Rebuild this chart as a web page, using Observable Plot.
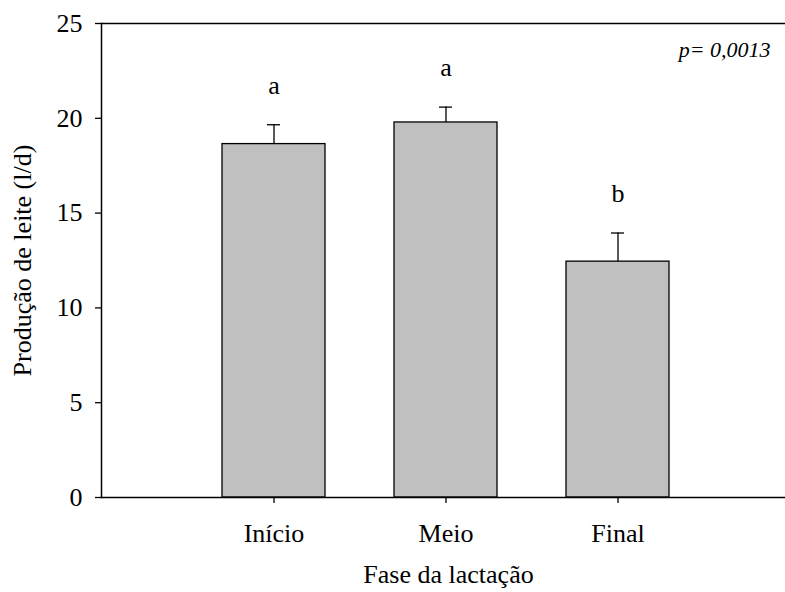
<!DOCTYPE html>
<html><head><meta charset="utf-8">
<script src="https://cdn.jsdelivr.net/npm/d3@7"></script>
<script src="https://cdn.jsdelivr.net/npm/@observablehq/plot@0.6"></script>
<style>
body{margin:0;background:#fff}
#chart svg, #chart svg text { font-family: "Liberation Serif", "DejaVu Serif", serif !important; }
</style>
</head><body><div id="chart"></div>
<script>
const phases = ["Início", "Meio", "Final"];
const means = [18.64, 19.78, 12.44];
const errors = [1.02, 0.81, 1.51];
const letters = ["a", "a", "b"];
const yTicks = [0, 5, 10, 15, 20, 25];
const pLabel = "p= 0,0013";
const xTitle = "Fase da lactação";
const yTitle = "Produção de leite (l/d)";

const data = phases.map((p, i) => ({phase: p, mean: means[i], top: means[i] + errors[i], letter: letters[i]}));

const chart = Plot.plot({
  width: 785, height: 592,
  marginLeft: 101, marginRight: 0, marginTop: 23, marginBottom: 95,
  style: {fontFamily: "Liberation Serif, serif", fontSize: "26px", color: "#000", background: "#fff", overflow: "visible"},
  x: {domain: phases, range: [101, 790], paddingInner: 0.4, paddingOuter: 0.7, label: null},
  y: {domain: [0, 25], label: null},
  marks: [
    Plot.barY(data, {x: "phase", y: "mean", fill: "#c0c0c0", stroke: "#000", strokeWidth: 1.3}),
    Plot.ruleX(data, {x: "phase", y1: "mean", y2: "top", stroke: "#000", strokeWidth: 1.3}),
    Plot.tickY(data, {x: "phase", y: "top", insetLeft: 45, insetRight: 45, stroke: "#000", strokeWidth: 1.3}),
    Plot.text(data, {x: "phase", y: "top", text: "letter", dy: -31, lineAnchor: "bottom", fontSize: 26}),
    Plot.axisY({ticks: yTicks, tickSize: 6, tickPadding: 13, tickFormat: d => String(d), strokeWidth: 1.3, label: null, fontSize: 26}),
    Plot.axisX({tickSize: 6, tickPadding: 20, strokeWidth: 1.3, label: null, fontSize: 26}),
    Plot.frame({anchor: "left", strokeWidth: 1.5}),
    Plot.frame({anchor: "top", strokeWidth: 1.5}),
    Plot.frame({anchor: "bottom", strokeWidth: 1.5}),
    Plot.text([pLabel], {text: d => d, frameAnchor: "top-right", dx: -15, dy: 33, lineAnchor: "bottom", textAnchor: "end", fontStyle: "italic", fontSize: 22}),
    Plot.text([yTitle], {text: d => d, frameAnchor: "left", rotate: -90, dx: -71, lineAnchor: "bottom", textAnchor: "middle", fontSize: 26}),
    Plot.text([xTitle], {text: d => d, frameAnchor: "bottom", dx: 5, dy: 85, lineAnchor: "bottom", textAnchor: "middle", fontSize: 26})
  ]
});
document.getElementById("chart").appendChild(chart);
</script>
</body></html>
